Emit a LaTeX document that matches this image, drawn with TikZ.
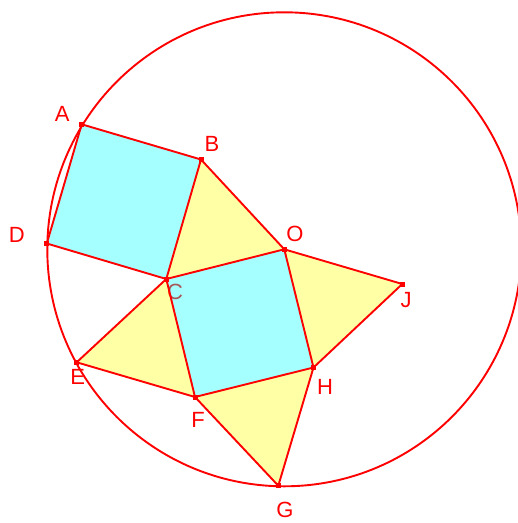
\documentclass[tikz,border=0pt]{standalone}
\usepackage{fontspec}
\setmainfont{Liberation Sans}
\definecolor{pcyan}{rgb}{0,1,1}
\definecolor{pyellow}{rgb}{1,1,0}
\definecolor{pred}{rgb}{1,0,0}
\begin{document}
\begin{tikzpicture}[x=1pt,y=-1pt,
  lbl/.style={text=pred,font=\fontsize{22}{22}\selectfont,inner sep=0pt,anchor=center},
  seg/.style={draw=pred,line width=1.9pt,line join=round},
  sqfill/.style={fill=pcyan,fill opacity=0.35},
  trifill/.style={fill=pyellow,fill opacity=0.35},
  vmark/.style={fill=pred,draw=none,minimum size=5pt,inner sep=0pt,rectangle}]
\useasboundingbox (0,0) rectangle (518,523);
\clip (0,0) rectangle (518,523);
\coordinate (A) at (81.7,124.3);
\coordinate (B) at (201,159.5);
\coordinate (C) at (166.3,279);
\coordinate (D) at (46.8,243.5);
\coordinate (O) at (284.3,249.3);
\coordinate (J) at (402.3,284);
\coordinate (H) at (313.5,367.5);
\coordinate (F) at (195,397);
\coordinate (E) at (76.7,362.3);
\coordinate (G) at (278.3,485.7);
% label C lies beneath the translucent fills
\node[lbl] (lC) at (175,291.5) {C};
% fills
\fill[sqfill] (A) -- (B) -- (C) -- (D) -- cycle;
\fill[sqfill] (C) -- (O) -- (H) -- (F) -- cycle;
\fill[trifill] (B) -- (O) -- (C) -- cycle;
\fill[trifill] (O) -- (J) -- (H) -- cycle;
\fill[trifill] (H) -- (G) -- (F) -- cycle;
\fill[trifill] (F) -- (E) -- (C) -- cycle;
% circle
\draw[pred,line width=1.9pt] (O) circle[radius=237pt];
% edges
\draw[seg] (A) -- (B) -- (C) -- (D) -- cycle;
\draw[seg] (C) -- (O) -- (H) -- (F) -- cycle;
\draw[seg] (B) -- (O);
\draw[seg] (O) -- (J) -- (H);
\draw[seg] (H) -- (G) -- (F);
\draw[seg] (F) -- (E) -- (C);
% vertex markers
\foreach \p in {A,B,C,D,O,J,H,F,E,G} \node[vmark] (m\p) at (\p) {};
% labels
\node[lbl] (lA) at (62.3,113.5) {A};
\node[lbl] (lB) at (212,143.7) {B};
\node[lbl] (lD) at (16.7,234.5) {D};
\node[lbl] (lO) at (295,234) {O};
\node[lbl] (lJ) at (406,300) {J};
\node[lbl] (lH) at (325,386.7) {H};
\node[lbl] (lE) at (77.8,376.7) {E};
\node[lbl] (lF) at (198,419.7) {F};
\node[lbl] (lG) at (285,509.5) {G};
\end{tikzpicture}
\end{document}
